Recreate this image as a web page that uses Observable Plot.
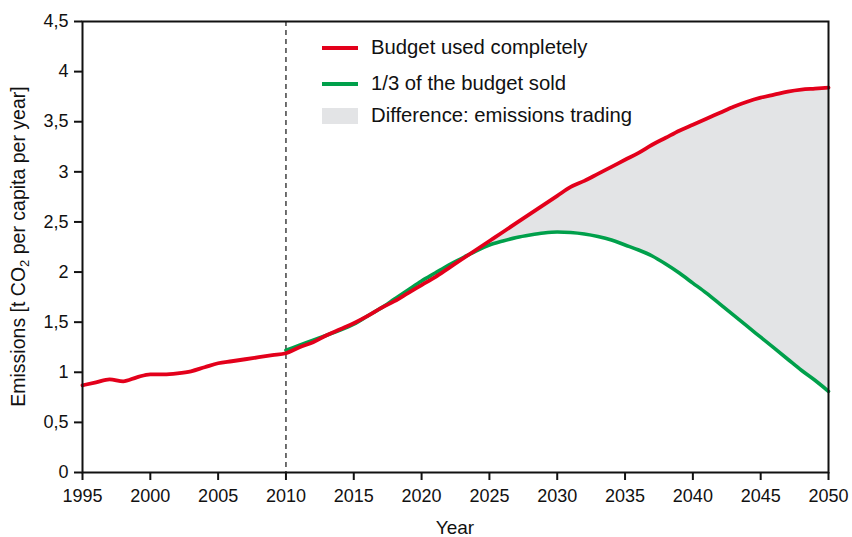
<!DOCTYPE html>
<html>
<head>
<meta charset="utf-8">
<script src="https://cdn.jsdelivr.net/npm/d3@7"></script>
<script src="https://cdn.jsdelivr.net/npm/@observablehq/plot@0.6"></script>
<style>
  html, body { margin: 0; padding: 0; background: #fff; }
  #wrap { position: relative; width: 852px; height: 537px; overflow: hidden; font-family: "Liberation Sans", Arial, sans-serif; }
  .legend { position: absolute; left: 322px; top: 30px; font-size: 20.3px; color: #111; }
  .legend .row { display: flex; align-items: center; }
  .legend .r1 { height: 35px; }
  .legend .r2 { height: 37px; }
  .legend .r3 { height: 27px; }
  .legend .sw { width: 36px; margin-right: 13px; }
  .legend .ln { height: 4px; }
  .legend .bx { height: 16px; background: #e3e4e6; }
  svg g[aria-label="x-axis tick label"] text, svg g[aria-label="y-axis tick label"] text { font-size: 18px; }
</style>
</head>
<body>
<div id="wrap"></div>
<script>
const years = d3.range(1995, 2051);
const budgetUsed = [
  0.87, 0.90, 0.93, 0.91, 0.95, 0.98, 0.98, 0.99, 1.01, 1.05,
  1.09, 1.11, 1.13, 1.15, 1.17, 1.19, 1.25, 1.30, 1.37, 1.43,
  1.49, 1.56, 1.64, 1.71, 1.79, 1.87, 1.95, 2.04, 2.13, 2.22,
  2.31, 2.40, 2.49, 2.58, 2.67, 2.76, 2.85, 2.91, 2.98, 3.05,
  3.12, 3.19, 3.27, 3.34, 3.41, 3.47, 3.53, 3.59, 3.65, 3.70,
  3.74, 3.77, 3.80, 3.82, 3.83, 3.84
];
const soldYears = d3.range(2010, 2051);
const budgetSold = [
  1.22, 1.27, 1.32, 1.37, 1.42, 1.48, 1.56, 1.64, 1.73, 1.82,
  1.91, 1.99, 2.07, 2.14, 2.21, 2.27, 2.31, 2.345, 2.37, 2.39,
  2.40, 2.395, 2.38, 2.355, 2.32, 2.27, 2.22, 2.16, 2.08, 1.99,
  1.89, 1.79, 1.68, 1.57, 1.46, 1.35, 1.24, 1.13, 1.02, 0.92,
  0.81
];
const xTicks = d3.range(1995, 2051, 5);
const yTicks = [0, 0.5, 1, 1.5, 2, 2.5, 3, 3.5, 4, 4.5];
const markerYear = 2010;
const seriesNames = ["Budget used completely", "1/3 of the budget sold", "Difference: emissions trading"];
const colors = { red: "#e3001b", green: "#00a04b", grey: "#e3e4e6" };

const red = years.map((y, i) => ({ year: y, v: budgetUsed[i] }));
const green = soldYears.map((y, i) => ({ year: y, v: budgetSold[i] }));
const diff = soldYears.map((y, i) => ({ year: y, lo: budgetSold[i], hi: budgetUsed[years.indexOf(y)] })).filter(d => d.year >= 2022);

const fmt = d => String(d).replace(".", ",");

const chart = Plot.plot({
  width: 852,
  height: 537,
  marginLeft: 82,
  marginRight: 24,
  marginTop: 21,
  marginBottom: 65,
  style: { fontFamily: '"Liberation Sans", Arial, sans-serif', fontSize: "18px", color: "#111", background: "transparent", overflow: "visible" },
  x: { domain: [1995, 2050], label: null },
  y: { domain: [0, 4.5], label: null },
  marks: [
    Plot.areaY(diff, { x: "year", y1: "lo", y2: "hi", fill: colors.grey, curve: "monotone-x" }),
    Plot.ruleX([markerYear], { stroke: "#333", strokeWidth: 1.4, strokeDasharray: "5,4" }),
    Plot.lineY(green, { x: "year", y: "v", stroke: colors.green, strokeWidth: 3.6, curve: "monotone-x" }),
    Plot.lineY(red, { x: "year", y: "v", stroke: colors.red, strokeWidth: 3.8, curve: "monotone-x" }),
    Plot.frame({ stroke: "#111", strokeWidth: 2 }),
    Plot.axisX({ ticks: xTicks, tickFormat: d => String(d), label: null, tickSize: 8, tickPadding: 9, strokeWidth: 2 }),
    Plot.axisY({ ticks: yTicks, tickFormat: fmt, label: null, tickSize: 8, tickPadding: 6, strokeWidth: 2 })
  ]
});

const wrap = document.getElementById("wrap");
chart.style.position = "absolute";
chart.style.left = "0";
chart.style.top = "0";
wrap.appendChild(chart);

const svg = d3.select(chart);
// x axis title
svg.append("text")
  .attr("x", (82 + 828) / 2)
  .attr("y", 534)
  .attr("text-anchor", "middle")
  .attr("font-size", 19)
  .attr("fill", "#111")
  .text("Year");
// y axis title with subscript
const yl = svg.append("text")
  .attr("transform", `translate(25, ${(21 + 472) / 2}) rotate(-90)`)
  .attr("text-anchor", "middle")
  .attr("font-size", 19.5)
  .attr("fill", "#111");
yl.append("tspan").text("Emissions [t CO");
yl.append("tspan").attr("font-size", 13).attr("dy", 4).text("2");
yl.append("tspan").attr("dy", -4).text(" per capita per year]");

// legend
const lg = document.createElement("div");
lg.className = "legend";
lg.innerHTML = `
  <div class="row r1"><div class="sw ln" style="background:${colors.red}"></div><span>${seriesNames[0]}</span></div>
  <div class="row r2"><div class="sw ln" style="background:${colors.green}"></div><span>${seriesNames[1]}</span></div>
  <div class="row r3"><div class="sw bx"></div><span>${seriesNames[2]}</span></div>`;
wrap.appendChild(lg);
</script>
</body>
</html>
